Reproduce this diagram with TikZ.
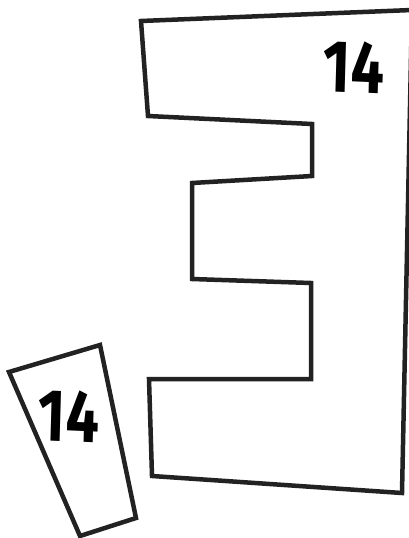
\documentclass[tikz,border=0pt]{standalone}
\usepackage{fontspec}
\setmainfont{Fira Sans}
\begin{document}
\begin{tikzpicture}[x=1pt,y=-1pt,
  outline/.style={line width=4.5pt,draw={rgb,255:red,34;green,34;blue,34},line join=miter},
  numlabel/.style={font=\fontsize{74}{74}\selectfont\bfseries,inner sep=0pt,xscale=0.8}]
\useasboundingbox (0,0) rectangle (409,538);
\draw[outline] (141,21) -- (412,10) -- (402,493) -- (152,476) -- (149,379) -- (311,379)
  -- (311,283) -- (192,279) -- (192,183) -- (312,176) -- (312,124) -- (148,116) -- cycle;
\draw[outline] (9,372) -- (100,345) -- (136,518) -- (80,536) -- cycle;
\node[numlabel,rotate=-2] (topnum) at (354,67) {14};
\node[numlabel,rotate=-2] (smallnum) at (69,416) {14};
\end{tikzpicture}
\end{document}
